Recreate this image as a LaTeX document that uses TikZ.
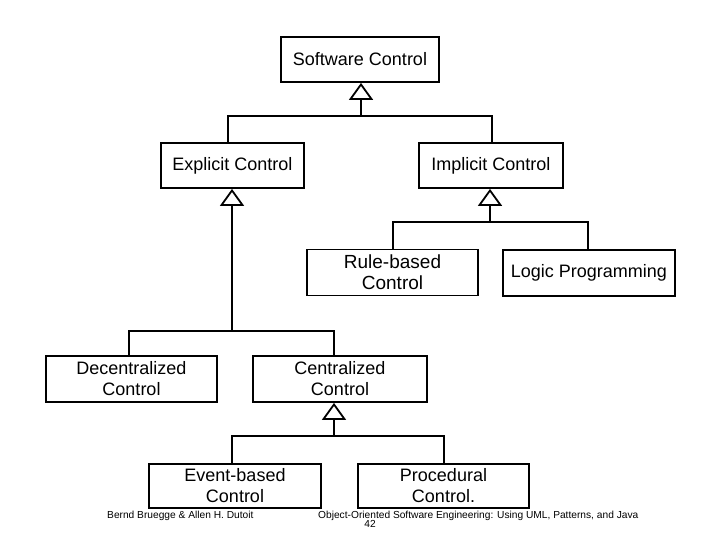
\documentclass[tikz,border=0pt]{standalone}
\usepackage{fontspec}
\setmainfont{Liberation Sans}
\usetikzlibrary{arrows.meta}
\begin{document}
\begin{tikzpicture}[x=1pt,y=-1pt,
  cls/.style={draw, line width=1.8pt, inner sep=0pt, align=center, font=\fontsize{18}{21}\selectfont},
  gen/.style={line width=1.8pt, -{Triangle[open, length=17pt, width=24pt]}},
  conn/.style={line width=1.8pt},
  foot/.style={inner sep=0pt, anchor=base west, font=\fontsize{10.2}{12}\selectfont}]
\fill[white] (0,0) rectangle (720,540);
\useasboundingbox (0,0) rectangle (720,540);
% classes
\node[cls, minimum width=158pt, minimum height=45pt] (sw) at (360,59.5) {Software Control};
\node[cls, minimum width=143pt, minimum height=45pt] (exp) at (232.5,165.5) {Explicit Control};
\node[cls, minimum width=144pt, minimum height=45pt] (imp) at (491,165.5) {Implicit Control};
\node[cls, minimum width=171pt, minimum height=46pt, font=\fontsize{19}{21}\selectfont] (rule) at (392.5,272.5) {Rule-based\\Control};
\node[cls, minimum width=172pt, minimum height=46pt] (logic) at (589,273) {Logic Programming};
\node[cls, minimum width=171pt, minimum height=46pt] (dec) at (131.5,379) {Decentralized\\Control};
\node[cls, minimum width=174pt, minimum height=46pt] (cen) at (340,379) {Centralized\\Control};
\node[cls, minimum width=172pt, minimum height=44pt] (evt) at (235,486) {Event-based\\Control};
\node[cls, minimum width=171pt, minimum height=44pt] (proc) at (443.5,486) {Procedural\\Control.};
% junctions
\coordinate (jsw) at (361,116);
\coordinate (jexp) at (232,331);
\coordinate (jimp) at (490,222);
\coordinate (jcen) at (334,436);
% generalizations
\draw[gen] (jsw) -- (jsw |- sw.south);
\draw[conn] (jsw) -| ([xshift=-4.5pt]exp.north);
\draw[conn] (jsw) -| ([xshift=1pt]imp.north);
\draw[gen] (jexp) -- (jexp |- exp.south);
\draw[conn] (jexp) -| ([xshift=-2.5pt]dec.north);
\draw[conn] (jexp) -| ([xshift=-6pt]cen.north);
\draw[gen] (jimp) -- (jimp |- imp.south);
\draw[conn] (jimp) -| ([xshift=0.5pt]rule.north);
\draw[conn] (jimp) -| ([xshift=-1pt]logic.north);
\draw[gen] (jcen) -- (jcen |- cen.south);
\draw[conn] (jcen) -| ([xshift=-3pt]evt.north);
\draw[conn] (jcen) -| ([xshift=0.5pt]proc.north);
% footer
\node[foot] (f1) at (107,518) {Bernd Bruegge \& Allen H. Dutoit};
\node[foot] (f2) at (318,518) {Object-Oriented Software Engineering: Using UML, Patterns, and Java};
\node[foot, anchor=base] (f3) at (370,527) {42};
\end{tikzpicture}
\end{document}
